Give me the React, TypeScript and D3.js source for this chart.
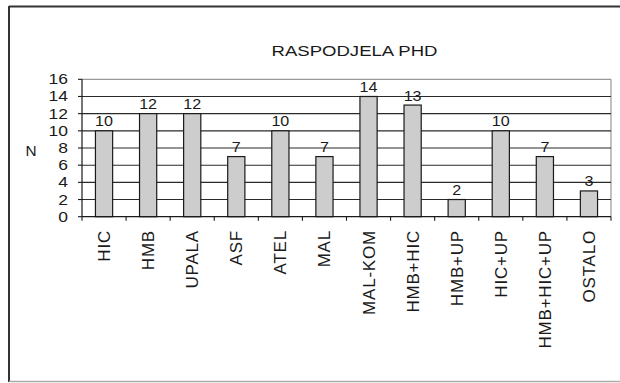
import React from "react";
import * as d3 from "d3";

const categories = ["HIC", "HMB", "UPALA", "ASF", "ATEL", "MAL", "MAL-KOM", "HMB+HIC", "HMB+UP", "HIC+UP", "HMB+HIC+UP", "OSTALO"];
const values = [10, 12, 12, 7, 10, 7, 14, 13, 2, 10, 7, 3];
const yTicks = [0, 2, 4, 6, 8, 10, 12, 14, 16];
const title = "RASPODJELA PHD";
const yLabel = "N";

const W = 620;
const H = 383;
const FONT = "'Liberation Sans', Arial, Helvetica, sans-serif";

export default function App() {
  const left = 82;
  const right = 611;
  const top = 79.3;
  const bottom = 216.7;

  const x = d3.scaleBand<string>().domain(categories).range([left, right]).padding(0);
  const y = d3.scaleLinear().domain([0, 16]).range([bottom, top]);
  const bw = x.bandwidth() * 0.39;
  const boundaries = d3.range(categories.length + 1).map((i) => left + i * x.bandwidth());

  return (
    <svg
      width={W}
      height={H}
      viewBox={`0 0 ${W} ${H}`}
      style={{ position: "absolute", left: 0, top: 0, background: "#fff" }}
    >
      <rect x={0} y={0} width={W} height={H} fill="#fff" />
      {/* outer frame */}
      <line x1={9} x2={W} y1={6.5} y2={6.5} stroke="#333" strokeWidth={2} />
      <line x1={9} x2={9} y1={6} y2={382} stroke="#333" strokeWidth={2} />
      <line x1={9} x2={W} y1={381.5} y2={381.5} stroke="#aaa" strokeWidth={1.5} />

      {/* title */}
      <text
        transform={`translate(354.5,55.5) scale(1.28,1)`}
        textAnchor="middle"
        fontFamily={FONT}
        fontSize={14.5}
        fill="#1a1a1a"
      >
        {title}
      </text>

      {/* plot border (top/right) */}
      <line x1={left} x2={right} y1={top} y2={top} stroke="#999" strokeWidth={1.2} />
      <line x1={right} x2={right} y1={top} y2={bottom} stroke="#999" strokeWidth={1.2} />

      {/* gridlines */}
      {yTicks
        .filter((t) => t > 0 && t < 16)
        .map((t) => (
          <line key={"g" + t} x1={left} x2={right} y1={y(t)} y2={y(t)} stroke="#2a2a2a" strokeWidth={1.1} />
        ))}

      {/* bars */}
      {categories.map((c, i) => {
        const cx = (x(c) as number) + x.bandwidth() / 2;
        return (
          <g key={c}>
            <rect
              x={cx - bw / 2}
              y={y(values[i])}
              width={bw}
              height={bottom - y(values[i])}
              fill="#cdcdcd"
              stroke="#1a1a1a"
              strokeWidth={1.2}
            />
            <text
              transform={`translate(${cx},${y(values[i]) - 4.5}) scale(1.15,1)`}
              textAnchor="middle"
              fontFamily={FONT}
              fontSize={14}
              fill="#1a1a1a"
            >
              {values[i]}
            </text>
            <text
              transform={`translate(${cx + 6},230) rotate(-90)`}
              textAnchor="end"
              fontFamily={FONT}
              fontSize={17}
              letterSpacing={0.8}
              fill="#1a1a1a"
            >
              {c}
            </text>
          </g>
        );
      })}

      {/* y axis */}
      <line x1={left} x2={left} y1={top} y2={bottom} stroke="#1a1a1a" strokeWidth={1.2} />
      {yTicks.map((t) => (
        <g key={"t" + t}>
          <line x1={left - 4} x2={left} y1={y(t)} y2={y(t)} stroke="#1a1a1a" strokeWidth={1.1} />
          <text
            transform={`translate(68,${y(t) + 5}) scale(1.25,1)`}
            textAnchor="end"
            fontFamily={FONT}
            fontSize={14}
            fill="#1a1a1a"
          >
            {t}
          </text>
        </g>
      ))}
      <text
        transform={`translate(31,155.5) scale(1.1,1)`}
        textAnchor="middle"
        fontFamily={FONT}
        fontSize={14}
        fill="#1a1a1a"
      >
        {yLabel}
      </text>

      {/* x axis */}
      <line x1={left} x2={right} y1={bottom} y2={bottom} stroke="#1a1a1a" strokeWidth={1.2} />
      {boundaries.map((b, i) => (
        <line key={"xt" + i} x1={b} x2={b} y1={bottom} y2={bottom + 4} stroke="#1a1a1a" strokeWidth={1.1} />
      ))}
    </svg>
  );
}
